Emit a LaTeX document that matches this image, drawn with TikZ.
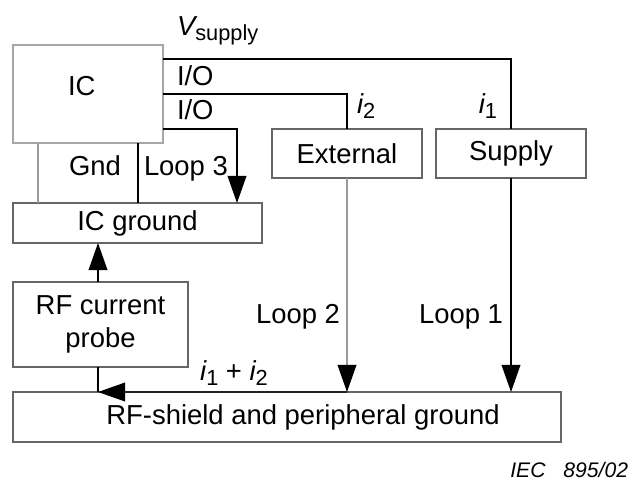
\documentclass[tikz,border=0pt]{standalone}
\usepackage{fontspec}
\setmainfont{Liberation Sans}
\usetikzlibrary{arrows.meta}
\newcommand{\subsc}[1]{\raisebox{-0.35ex}{\fontsize{15.5}{16}\selectfont #1}}
\begin{document}
\begin{tikzpicture}[x=0.025cm, y=-0.025cm, line width=1pt,
every node/.style={font=\fontsize{19.5}{23}\selectfont, inner sep=0pt, outer sep=0pt},
box/.style={draw=black!60, align=center},
gwire/.style={draw=black!40},
arr/.style={-{Triangle[length=0.68cm,width=0.47cm,color=black]}}]
\useasboundingbox (0,0) rectangle (631,480);
% blocks
\node[box,draw=black!35,minimum width=3.75cm,minimum height=2.45cm] (ic) at (88,94) {};
\node[anchor=base west] (iclbl) at (68,95) {IC};
\node[box,minimum width=6.225cm,minimum height=1cm] (icg) at (137.5,223) {IC ground};
\node[box,minimum width=3.75cm,minimum height=1.225cm] (ext) at (347,153.5) {External};
\node[box,minimum width=3.75cm,minimum height=1.225cm] (sup) at (511,153.5) {Supply};
\node[box,minimum width=4.375cm,minimum height=2.125cm] (probe) at (100.5,324.5) {RF current\\probe};
\node[box,minimum width=13.7cm,minimum height=1.25cm] (shield) at (287,417) {\hspace{0.8cm}RF-shield and peripheral ground};
\coordinate (l3end) at (237,203);
\coordinate (tap) at (98,392);
% wires from the IC
\draw (ic.north east) ++(0,14) -| (sup.north);
\draw (ic.north east) ++(0,49) -| (ext.north);
\draw[arr] (ic.north east) ++(0,84) -| (l3end);
\draw[gwire] (ic.south west) ++(25,0) -- +(0,60);
\draw (ic.south west) ++(125,0) -- +(0,60);
% return paths
\draw[gwire,arr] (ext.south) -- (ext.south |- shield.north);
\draw[arr] (sup.south) -- (sup.south |- shield.north);
\draw[arr] (ext.south |- shield.north) -- (tap);
\draw (tap) -- (tap |- probe.south);
\draw[arr] (tap |- probe.north) -- (tap |- icg.south);
% labels
\node[anchor=base west] (vsup) at (177,35) {\itshape V\upshape\subsc{supply}};
\node[anchor=base west] (io1) at (177,85) {I/O};
\node[anchor=base west] (io2) at (177,119) {I/O};
\node[anchor=base west] (i2) at (357,113) {\itshape i\upshape\subsc{2}};
\node[anchor=base east] (i1) at (497,113) {\itshape i\upshape\subsc{1}};
\node[anchor=base west] (gnd) at (69,175) {Gnd};
\node[anchor=base west] (loop3) at (144,175) {Loop 3};
\node[anchor=base east] (loop2) at (340,323) {Loop 2};
\node[anchor=base east] (loop1) at (503,323) {Loop 1};
\node[anchor=base] (isum) at (234,380) {\itshape i\upshape\subsc{1} + \itshape i\upshape\subsc{2}};
\node[anchor=base east,font=\fontsize{15}{18}\selectfont\itshape] (iec) at (628,477) {IEC\hspace{0.45cm}895/02};
\end{tikzpicture}
\end{document}
